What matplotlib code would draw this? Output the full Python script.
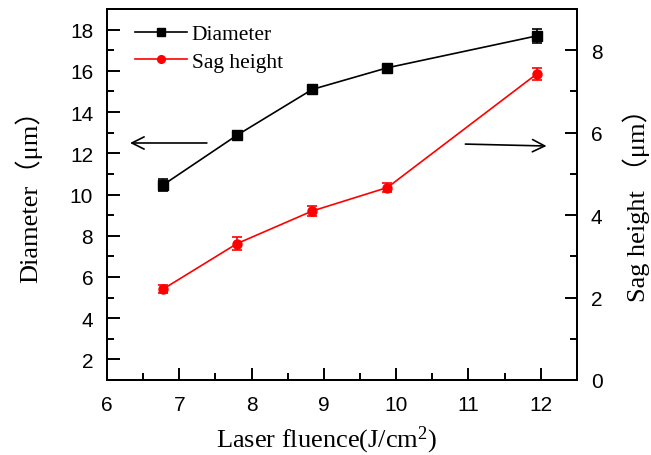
import matplotlib.pyplot as plt
from matplotlib.ticker import MultipleLocator

# data
fluence = [6.77, 7.80, 8.84, 9.88, 11.95]
diameter = [10.45, 12.88, 15.10, 16.15, 17.70]
diameter_err = [0.28, 0.20, 0.22, 0.15, 0.35]
sag = [2.20, 3.31, 4.10, 4.67, 7.43]
sag_err = [0.10, 0.15, 0.13, 0.12, 0.14]

serif = ['Liberation Serif', 'Noto Sans CJK SC']
plt.rcParams['font.family'] = ['Liberation Sans', 'DejaVu Sans']
plt.rcParams['mathtext.fontset'] = 'custom'
plt.rcParams['mathtext.rm'] = 'Liberation Serif'
plt.rcParams['mathtext.it'] = 'Liberation Serif'

fig = plt.figure(figsize=(6.51, 4.56), dpi=100)
ax = fig.add_axes([0.1644, 0.1645, 0.7216, 0.8135])
ax2 = ax.twinx()

l1 = ax.errorbar(fluence, diameter, yerr=diameter_err, color='black', marker='s',
                 markersize=6.5, linewidth=1.2, capsize=3.5, elinewidth=1.2,
                 capthick=1.2)
l2 = ax2.errorbar(fluence, sag, yerr=sag_err, color='red', marker='o',
                  markersize=6.5, linewidth=1.2, capsize=3.5, elinewidth=1.2,
                  capthick=1.2)

ax.set_xlim(6, 12.5)
ax.set_ylim(1, 19)
ax2.set_ylim(0, 9)

ax.xaxis.set_major_locator(MultipleLocator(1))
ax.xaxis.set_minor_locator(MultipleLocator(0.5))
ax.yaxis.set_major_locator(MultipleLocator(2))
ax.yaxis.set_minor_locator(MultipleLocator(1))
ax2.yaxis.set_major_locator(MultipleLocator(2))
ax2.yaxis.set_minor_locator(MultipleLocator(1))

ax.tick_params(axis='x', which='major', direction='in', length=9, width=1.4,
               labelsize=15, pad=11, top=False)
ax.tick_params(axis='y', which='major', direction='in', length=9, width=1.4,
               labelsize=15, pad=10, right=False)
ax.tick_params(axis='both', which='minor', direction='in', length=5, width=1.4,
               top=False, right=False)
ax2.tick_params(axis='y', which='major', direction='in', length=9, width=1.4,
                labelsize=15, pad=10)
ax2.tick_params(axis='y', which='minor', direction='in', length=5, width=1.4)
for a in (ax, ax2):
    for s in a.spines.values():
        s.set_linewidth(1.4)

ax.set_xlabel('Laser fluence(J/cm$^2$)', family=serif, fontsize=19)
ax.set_ylabel('Diameter（μm）', family=serif, fontsize=19)
ax2.set_ylabel('Sag height （μm）', family=serif, fontsize=19)
ax.xaxis.set_label_coords(0.467, -0.117)
ax.yaxis.set_label_coords(-0.138, 0.515)
ax2.yaxis.set_label_coords(1.097, 0.49)

# arrows pointing to each series' axis
ax.annotate('', xy=(6.28, 12.5), xytext=(7.42, 12.5),
            arrowprops=dict(arrowstyle='->', color='black', lw=1.2,
                            mutation_scale=22))
ax.annotate('', xy=(12.12, 12.35), xytext=(10.92, 12.45),
            arrowprops=dict(arrowstyle='->', color='black', lw=1.2,
                            mutation_scale=22))

leg = ax2.legend([l1[0], l2[0]], ['Diameter', 'Sag height'], loc='upper left',
                 bbox_to_anchor=(0.041, 0.982), borderaxespad=0,
                 frameon=False, prop={'family': serif, 'size': 15.5},
                 handlelength=2.4, handletextpad=0.23, labelspacing=0.35,
                 markerscale=0.85)

fig.savefig('out.png', dpi=100)
